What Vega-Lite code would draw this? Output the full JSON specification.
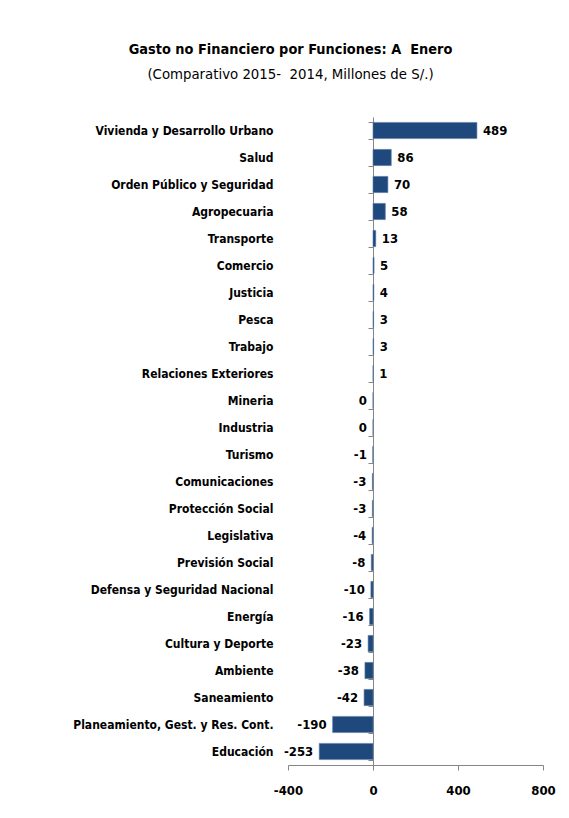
{
  "$schema": "https://vega.github.io/schema/vega-lite/v6.json",
  "width": 255,
  "height": 648,
  "autosize": "none",
  "padding": {"left": 288, "top": 117, "right": 26, "bottom": 53},
  "background": "white",
  "config": {
    "view": {"stroke": null},
    "font": "DejaVu Sans Condensed",
    "locale": {"number": {"decimal": ".", "thousands": ",", "grouping": [3], "currency": ["", ""], "minus": "-"}}
  },
  "title": {
    "text": "Gasto no Financiero por Funciones: A\u00a0 Enero",
    "subtitle": "(Comparativo 2015-\u00a0 2014, Millones de S/.)",
    "font": "DejaVu Sans Condensed",
    "fontSize": 14.4,
    "fontWeight": "bold",
    "color": "black",
    "subtitleFont": "DejaVu Sans Condensed",
    "subtitleFontSize": 14.8,
    "subtitleColor": "black",
    "subtitlePadding": 10,
    "anchor": "middle",
    "dx": -125,
    "offset": 34
  },
  "data": {
    "values": [
      {"funcion": "Vivienda y Desarrollo Urbano", "valor": 489},
      {"funcion": "Salud", "valor": 86},
      {"funcion": "Orden Público y Seguridad", "valor": 70},
      {"funcion": "Agropecuaria", "valor": 58},
      {"funcion": "Transporte", "valor": 13},
      {"funcion": "Comercio", "valor": 5},
      {"funcion": "Justicia", "valor": 4},
      {"funcion": "Pesca", "valor": 3},
      {"funcion": "Trabajo", "valor": 3},
      {"funcion": "Relaciones Exteriores", "valor": 1},
      {"funcion": "Mineria", "valor": 0},
      {"funcion": "Industria", "valor": 0},
      {"funcion": "Turismo", "valor": -1},
      {"funcion": "Comunicaciones", "valor": -3},
      {"funcion": "Protección Social", "valor": -3},
      {"funcion": "Legislativa", "valor": -4},
      {"funcion": "Previsión Social", "valor": -8},
      {"funcion": "Defensa y Seguridad Nacional", "valor": -10},
      {"funcion": "Energía", "valor": -16},
      {"funcion": "Cultura y Deporte", "valor": -23},
      {"funcion": "Ambiente", "valor": -38},
      {"funcion": "Saneamiento", "valor": -42},
      {"funcion": "Planeamiento, Gest. y Res. Cont.", "valor": -190},
      {"funcion": "Educación", "valor": -253}
    ]
  },
  "encoding": {
    "y": {
      "field": "funcion",
      "type": "nominal",
      "sort": null,
      "scale": {"paddingInner": 0.4, "paddingOuter": 0.2}
    },
    "x": {
      "field": "valor",
      "type": "quantitative",
      "scale": {"domain": [-400, 800], "nice": false, "zero": false},
      "axis": {
        "title": null,
        "values": [-400, 0, 400, 800],
        "grid": false,
        "domainColor": "#868686",
        "tickColor": "#868686",
        "tickSize": 5,
        "labelFont": "DejaVu Sans Condensed",
        "labelFontSize": 13,
        "labelFontWeight": "bold",
        "labelColor": "black",
        "labelPadding": 14,
        "labelFlush": false
      }
    }
  },
  "layer": [
    {
      "mark": {"type": "bar", "color": "#1F497D", "stroke": "#5A7BA5", "strokeWidth": 0.6},
      "encoding": {
        "y": {
          "field": "funcion",
          "type": "nominal",
          "sort": null,
          "axis": {
            "orient": "left",
            "title": null,
            "domain": false,
            "ticks": false,
            "labelPadding": 15,
            "labelFont": "DejaVu Sans Condensed",
            "labelFontSize": 12,
            "labelFontWeight": "bold",
            "labelColor": "black",
            "labelLimit": 300
          }
        }
      }
    },
    {
      "transform": [{"filter": "datum.valor > 0"}],
      "mark": {"type": "text", "align": "left", "dx": 6, "fontSize": 13, "fontWeight": "bold", "font": "DejaVu Sans Condensed", "color": "black"},
      "encoding": {
        "text": {"field": "valor", "type": "quantitative"},
        "y": {
          "field": "funcion",
          "type": "nominal",
          "sort": null,
          "axis": {
            "orient": "right",
            "offset": -170,
            "title": null,
            "labels": false,
            "domain": true,
            "domainColor": "#868686",
            "ticks": true,
            "tickBand": "extent",
            "tickColor": "#868686",
            "tickSize": -5
          }
        }
      }
    },
    {
      "transform": [{"filter": "datum.valor <= 0"}],
      "mark": {"type": "text", "align": "right", "dx": -6, "fontSize": 13, "fontWeight": "bold", "font": "DejaVu Sans Condensed", "color": "black"},
      "encoding": {
        "text": {"field": "valor", "type": "quantitative"},
        "y": {"field": "funcion", "type": "nominal", "sort": null, "axis": null}
      }
    }
  ]
}
